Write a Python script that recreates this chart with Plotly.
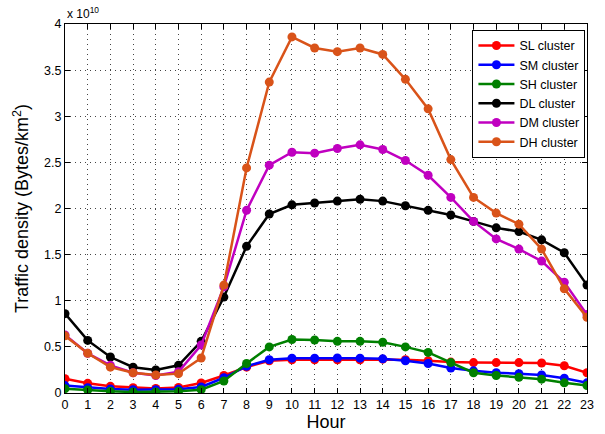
import plotly.graph_objects as go

hours = list(range(24))
scale_label = "x 10<sup>10</sup>"
y_ticks = [0, 0.5, 1, 1.5, 2, 2.5, 3, 3.5, 4]
y_ticktext = ["0", "0.5", "1", "1.5", "2", "2.5", "3", "3.5", "4"]

sl = [0.155, 0.105, 0.072, 0.058, 0.05, 0.06, 0.108, 0.19, 0.28, 0.35, 0.36, 0.36,
      0.36, 0.36, 0.367, 0.36, 0.35, 0.335, 0.33, 0.33, 0.33, 0.325, 0.295, 0.22]
sm = [0.08, 0.058, 0.043, 0.036, 0.036, 0.04, 0.065, 0.165, 0.29, 0.36, 0.378, 0.378,
      0.38, 0.378, 0.37, 0.35, 0.32, 0.27, 0.24, 0.22, 0.21, 0.195, 0.16, 0.11]
sh = [0.047, 0.032, 0.018, 0.011, 0.011, 0.018, 0.036, 0.13, 0.32, 0.50, 0.58, 0.575,
      0.56, 0.56, 0.55, 0.50, 0.44, 0.33, 0.22, 0.19, 0.17, 0.15, 0.11, 0.08]
dl = [0.86, 0.57, 0.39, 0.28, 0.25, 0.30, 0.56, 1.04, 1.59, 1.94, 2.04, 2.06,
      2.08, 2.10, 2.08, 2.03, 1.98, 1.93, 1.86, 1.79, 1.75, 1.66, 1.52, 1.17]
dm = [0.63, 0.43, 0.30, 0.22, 0.19, 0.23, 0.52, 1.15, 1.98, 2.47, 2.61, 2.60,
      2.65, 2.69, 2.64, 2.52, 2.36, 2.12, 1.86, 1.67, 1.56, 1.43, 1.20, 0.85]
dh = [0.62, 0.43, 0.28, 0.22, 0.195, 0.21, 0.38, 1.17, 2.44, 3.37, 3.86, 3.74,
      3.70, 3.74, 3.67, 3.40, 3.08, 2.53, 2.12, 1.95, 1.83, 1.56, 1.13, 0.82]

names = ["SL cluster", "SM cluster", "SH cluster", "DL cluster", "DM cluster", "DH cluster"]
series = [sl, sm, sh, dl, dm, dh]
colors = ["#ff0000", "#0000ff", "#008000", "#000000", "#c000c0", "#d95319"]

fig = go.Figure()
for n, s, c in zip(names, series, colors):
    fig.add_trace(go.Scatter(x=hours, y=s, name=n, mode="lines+markers",
                             line=dict(color=c, width=2.5),
                             marker=dict(color=c, size=9)))

font = "Liberation Sans, Arial, sans-serif"
axis_common = dict(showline=True, linecolor="black", linewidth=1, mirror="ticks",
                   ticks="inside", ticklen=5, tickcolor="black", automargin=False,
                   showgrid=True, gridcolor="#444444", griddash="1px,4px", gridwidth=1,
                   zeroline=False, tickfont=dict(family=font, size=12.5, color="black"))

fig.update_layout(
    width=605, height=434,
    margin=dict(l=65, r=18, t=24, b=41),
    paper_bgcolor="white", plot_bgcolor="white",
    font=dict(family=font, color="black"),
    xaxis=dict(range=[0, 23], tickmode="array", tickvals=hours,
               ticktext=[str(h) for h in hours],
               title=dict(text="Hour", font=dict(family=font, size=18), standoff=4),
               **axis_common),
    yaxis=dict(range=[0, 4], tickmode="array",
               tickvals=y_ticks, ticktext=y_ticktext,
               title=dict(text="Traffic density (Bytes/km<sup>2</sup>)",
                          font=dict(family=font, size=18), standoff=10),
               **axis_common),
    legend=dict(x=0.997, y=0.984, xanchor="right", yanchor="top",
                bgcolor="white", bordercolor="black", borderwidth=1,
                font=dict(family=font, size=12.5), itemwidth=36,
                tracegroupgap=0),
    showlegend=True,
    annotations=[dict(text=scale_label, x=0, y=1.0, xref="paper", yref="paper",
                      xanchor="left", yanchor="bottom", showarrow=False,
                      yshift=1, font=dict(family=font, size=12, color="black"))],
)

fig.write_html("out.html")
